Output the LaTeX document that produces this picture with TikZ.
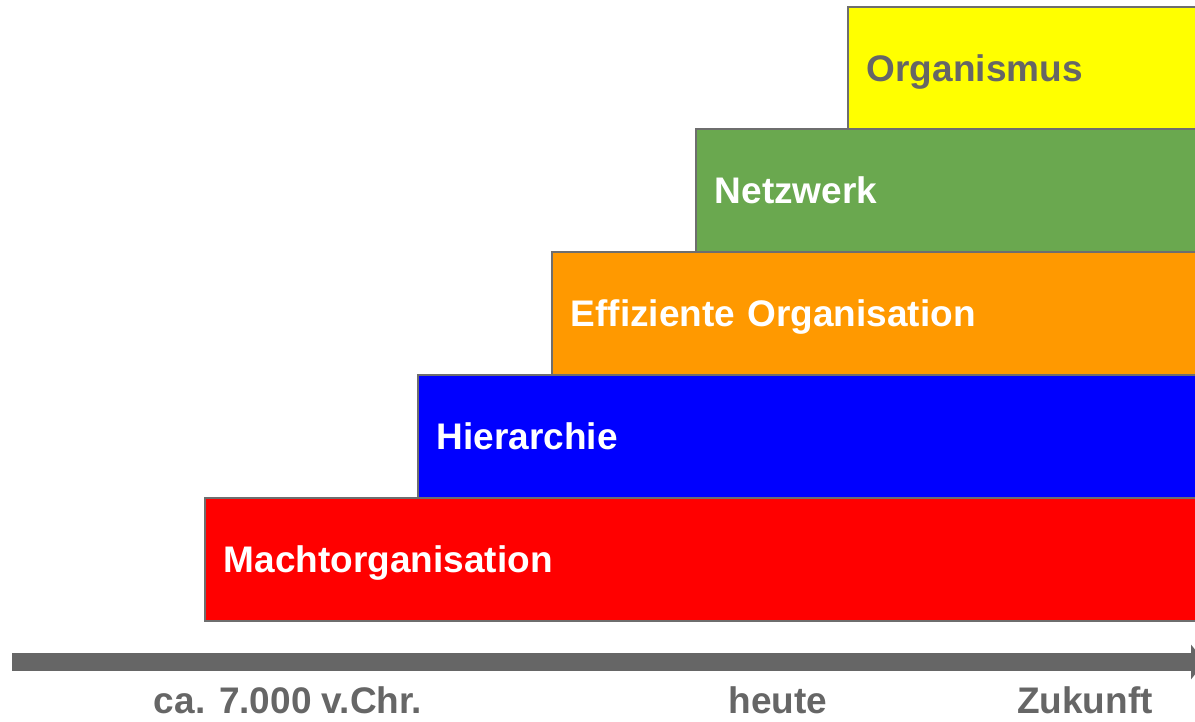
\documentclass[tikz,border=0pt]{standalone}
\usepackage{fontspec}
\setmainfont{Liberation Sans}
\usetikzlibrary{arrows.meta}

\definecolor{rimgray}{HTML}{6E6E6E}
\definecolor{axisgray}{HTML}{666666}
\definecolor{machtred}{HTML}{FF0000}
\definecolor{hierblue}{HTML}{0000FF}
\definecolor{effiorange}{HTML}{FF9900}
\definecolor{netzgreen}{HTML}{6AA84F}
\definecolor{orgyellow}{HTML}{FFFF00}

\tikzstyle{stage}=[draw=rimgray, line width=1.5pt, anchor=north west, minimum height=123pt, inner xsep=19pt, inner ysep=0pt, text height=26.5pt, text depth=0pt, align=left, text=white, font=\bfseries\fontsize{37}{44}\selectfont]
\tikzstyle{era}=[text=axisgray, anchor=base, inner sep=0pt, font=\bfseries\fontsize{37}{44}\selectfont]
\tikzstyle{axis}=[axisgray, line width=18pt, -{Triangle[length=14pt, width=34pt]}]

\begin{document}
\begin{tikzpicture}[x=1pt, y=-1pt]
      \clip (0,0) rectangle (1195,721);

      \node[stage, fill=machtred, text width=958pt] (macht) at (204,497) {Machtorganisation};
      \node[stage, fill=hierblue, text width=745pt] (hier) at (417,374) {Hierarchie};
      \node[stage, fill=effiorange, text width=611pt] (effi) at (551,251) {Effiziente Organisation};
      \node[stage, fill=netzgreen, text width=467pt] (netz) at (695,128) {Netzwerk};
      \node[stage, fill=orgyellow, text width=315pt, minimum height=122pt, text=axisgray] (orga) at (847,6) {Organismus};

      \coordinate (tail) at (12,662);
      \coordinate (head) at (1205,662);
      \draw[axis] (tail) -- (head);

      \node[era] (past) at (288,713) {ca. 7.000 v.Chr.};
      \node[era] (now) at (778,713) {heute};
      \node[era] (future) at (1085,713) {Zukunft};
    \end{tikzpicture}
\end{document}
